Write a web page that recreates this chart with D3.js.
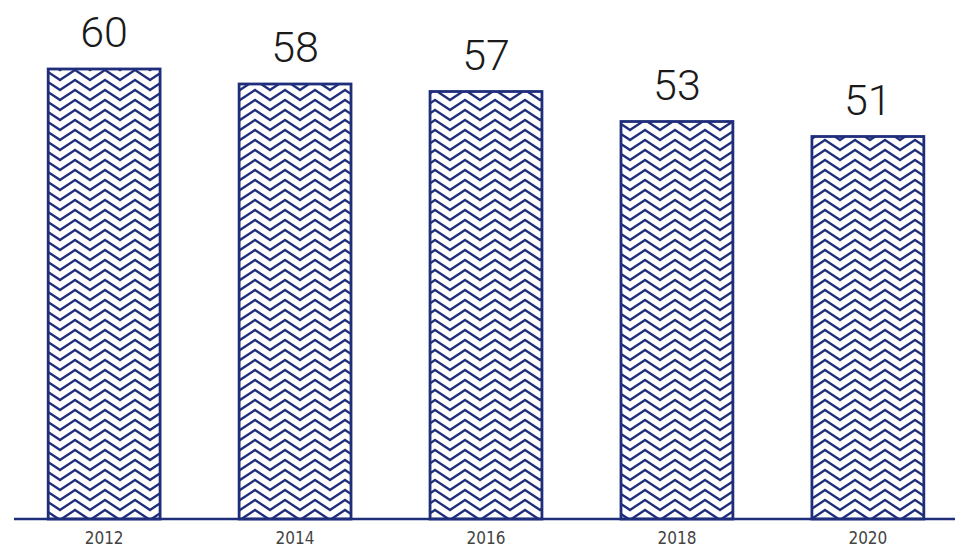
<!DOCTYPE html>
<html>
<head>
<meta charset="utf-8">
<script src="https://cdn.jsdelivr.net/npm/d3@7"></script>
<style>
  html, body { margin: 0; padding: 0; background: #fff; }
  svg { display: block; }
</style>
</head>
<body>
<svg id="chart" width="955" height="548"></svg>
<script>
const categories = ["2012", "2014", "2016", "2018", "2020"];
const values = [60, 58, 57, 53, 51];

const W = 955, H = 548;
const navy = "#1f2e7a";
const svg = d3.select("#chart");

const x = d3.scaleBand()
  .domain(categories)
  .range([10, 962])
  .paddingInner(0.414)
  .paddingOuter(0.2);

const y = d3.scaleLinear()
  .domain([0, 60])
  .range([519, 69]);

// chevron pattern
const defs = svg.append("defs");
const pw = 30, ph = 10, amp = 10;
const pat = defs.append("pattern")
  .attr("id", "chevron")
  .attr("patternUnits", "userSpaceOnUse")
  .attr("width", pw)
  .attr("height", ph);
pat.append("rect").attr("width", pw).attr("height", ph).attr("fill", "#fff");
[-2 * ph, -ph, 0, ph].forEach(dy => {
  pat.append("path")
    .attr("d", `M${-pw / 2},${dy} L0,${dy + amp} L${pw / 2},${dy} L${pw},${dy + amp} L${pw * 1.5},${dy}`)
    .attr("fill", "none")
    .attr("stroke", navy)
    .attr("stroke-width", 2.3);
});

// bars
svg.append("g").selectAll("rect")
  .data(categories)
  .join("rect")
  .attr("x", d => x(d))
  .attr("y", (d, i) => y(values[i]))
  .attr("width", x.bandwidth())
  .attr("height", (d, i) => y(0) - y(values[i]))
  .attr("fill", "url(#chevron)")
  .attr("stroke", navy)
  .attr("stroke-width", 2.8);

// value labels
svg.append("g").selectAll("text")
  .data(categories)
  .join("text")
  .attr("x", d => x(d) + x.bandwidth() / 2)
  .attr("y", (d, i) => y(values[i]) - 22)
  .attr("text-anchor", "middle")
  .attr("font-family", "Roboto, 'Helvetica Neue', Arial, sans-serif")
  .attr("font-weight", 300)
  .attr("font-size", 43)
  .attr("fill", "#1a1a1a")
  .text((d, i) => values[i]);

// x axis
const axis = svg.append("g")
  .attr("transform", `translate(0,${y(0)})`)
  .call(d3.axisBottom(x).tickSize(0).tickPadding(13));
axis.select(".domain").remove();
axis.append("line")
  .attr("x1", 14).attr("x2", W)
  .attr("y1", 0).attr("y2", 0)
  .attr("stroke", navy).attr("stroke-width", 2.5);
axis.selectAll(".tick text")
  .attr("font-family", "'Liberation Sans Narrow', 'DejaVu Sans Condensed', Arial, sans-serif")
  .attr("font-size", 17)
  .attr("fill", "#444");
</script>
</body>
</html>
